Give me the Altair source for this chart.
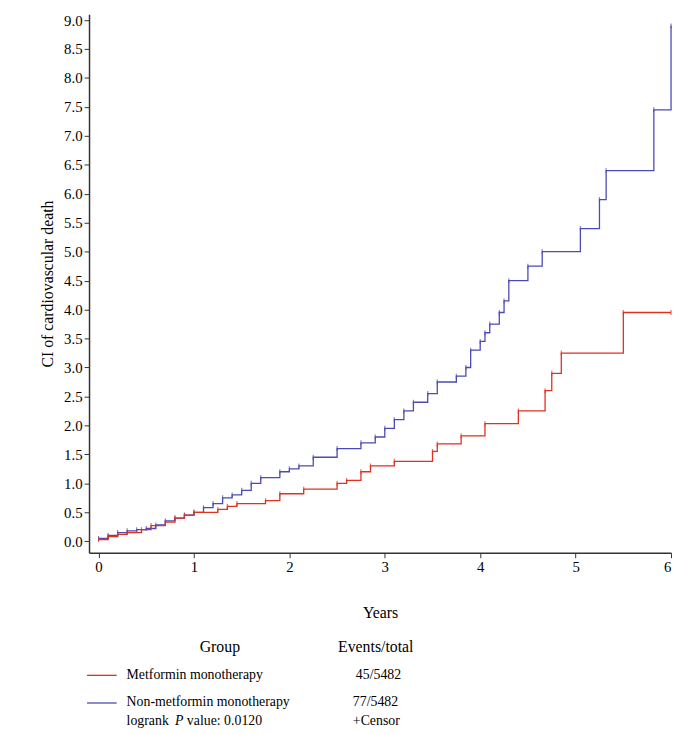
import altair as alt
import pandas as pd

# step change points (years, cumulative incidence)
blue_t = [0, 0.1, 0.2, 0.3, 0.4, 0.5, 0.6, 0.7, 0.8, 0.9, 1.0, 1.1, 1.2, 1.3, 1.4, 1.5, 1.6, 1.7, 1.9, 2.0,
          2.1, 2.25, 2.5, 2.75, 2.9, 3.0, 3.1, 3.2, 3.3, 3.45, 3.55, 3.75, 3.85, 3.9, 4.0, 4.05, 4.1, 4.2,
          4.25, 4.3, 4.5, 4.65, 5.05, 5.25, 5.32, 5.82, 6.0]
blue_v = [0.05, 0.1, 0.15, 0.18, 0.2, 0.22, 0.28, 0.35, 0.4, 0.45, 0.5, 0.58, 0.65, 0.75, 0.8, 0.88, 1.0, 1.1,
          1.2, 1.25, 1.3, 1.45, 1.6, 1.7, 1.8, 1.95, 2.1, 2.25, 2.4, 2.55, 2.75, 2.85, 3.0, 3.3, 3.45, 3.6,
          3.75, 3.95, 4.15, 4.5, 4.75, 5.0, 5.4, 5.9, 6.4, 7.45, 8.9]
red_t = [0, 0.1, 0.2, 0.3, 0.45, 0.55, 0.7, 0.8, 0.9, 1.0, 1.25, 1.35, 1.45, 1.75, 1.9, 2.15, 2.5, 2.6, 2.75,
         2.85, 3.1, 3.5, 3.55, 3.8, 4.05, 4.4, 4.68, 4.75, 4.85, 5.5, 6.0]
red_v = [0.03, 0.08, 0.12, 0.15, 0.2, 0.27, 0.33, 0.4, 0.45, 0.5, 0.55, 0.6, 0.65, 0.7, 0.82, 0.9, 1.0, 1.05,
         1.2, 1.3, 1.38, 1.55, 1.68, 1.82, 2.03, 2.25, 2.6, 2.9, 3.25, 3.95, 3.95]

df = pd.concat([
    pd.DataFrame({"t": blue_t, "v": blue_v, "g": "Non-metformin monotherapy"}),
    pd.DataFrame({"t": red_t, "v": red_v, "g": "Metformin monotherapy"}),
])

font = "Liberation Serif"
colors = alt.Scale(domain=["Metformin monotherapy", "Non-metformin monotherapy"],
                   range=["#e0301e", "#4a4ab8"])

x = alt.X("t:Q", scale=alt.Scale(domain=[-0.1, 6], nice=False), title="Years",
          axis=alt.Axis(values=[0, 1, 2, 3, 4, 5, 6], format="d", grid=False, titlePadding=30,
                        labelOverlap=False, domainColor="#333", tickColor="#333"))
y = alt.Y("v:Q", scale=alt.Scale(domain=[-0.2, 9.1], nice=False), title="CI of cardiovascular death",
          axis=alt.Axis(tickCount=20, format=".1f", grid=False, titlePadding=8,
                        labelOverlap=False, domainColor="#333", tickColor="#333"))

lines = alt.Chart(df).mark_line(interpolate="step-after", strokeWidth=1.3).encode(
    x=x, y=y, color=alt.Color("g:N", scale=colors, legend=None), detail="g:N")
ticks = alt.Chart(df).mark_tick(orient="vertical", size=5, thickness=1.2).encode(
    x="t:Q", y="v:Q", color=alt.Color("g:N", scale=colors, legend=None))

# legend below the plot (pixel positions relative to plot origin)
leg_x = [112, 252, 38, 270, 38, 267, 38, 267]
leg_y = [640, 640, 669, 669, 696, 696, 715, 715]
leg_txt = ["Group", "Events/total", "Metformin monotherapy", "45/5482",
           "Non-metformin monotherapy", "77/5482", "logrank", "+Censor"]
leg = pd.DataFrame({"x": leg_x, "y": leg_y, "s": leg_txt})
big = leg.iloc[:2]
small = leg.iloc[2:]
t_big = alt.layer(*[
    alt.Chart(pd.DataFrame({"s": [r.s]})).mark_text(font=font, fontSize=16, align="left").encode(
        x=alt.value(r.x), y=alt.value(r.y), text="s:N") for r in big.itertuples()])
t_small = alt.layer(*[
    alt.Chart(pd.DataFrame({"s": [r.s]})).mark_text(font=font, fontSize=14, align="left").encode(
        x=alt.value(r.x), y=alt.value(r.y), text="s:N") for r in small.itertuples()])
p_it = alt.Chart(pd.DataFrame({"s": ["P"]})).mark_text(font=font, fontSize=14, align="left",
                                                        fontStyle="italic").encode(
    x=alt.value(87), y=alt.value(715), text="s:N")
p_rest = alt.Chart(pd.DataFrame({"s": ["value: 0.0120"]})).mark_text(font=font, fontSize=14,
                                                                      align="left").encode(
    x=alt.value(99), y=alt.value(715), text="s:N")
sw_red = alt.Chart(pd.DataFrame({"g": ["Metformin monotherapy"]})).mark_rule(strokeWidth=1.3).encode(
    x=alt.value(-2), x2=alt.value(28), y=alt.value(669), color=alt.Color("g:N", scale=colors, legend=None))
sw_blue = alt.Chart(pd.DataFrame({"g": ["Non-metformin monotherapy"]})).mark_rule(strokeWidth=1.3).encode(
    x=alt.value(-2), x2=alt.value(28), y=alt.value(697), color=alt.Color("g:N", scale=colors, legend=None))

chart = alt.layer(lines, ticks, t_big, t_small, p_it, p_rest, sw_red, sw_blue).properties(
    width=589, height=545,
    autosize=alt.AutoSizeParams(type="none"),
    padding={"left": 82, "top": 2, "right": 2, "bottom": 178},
).configure_axis(
    labelFont=font, titleFont=font, labelFontSize=15, titleFontSize=16, titleFontWeight="normal",
    labelColor="black", titleColor="black", domainWidth=1.5
).configure_view(stroke=None)

chart.save("out.html", embed_options={"renderer": "svg", "actions": False})
